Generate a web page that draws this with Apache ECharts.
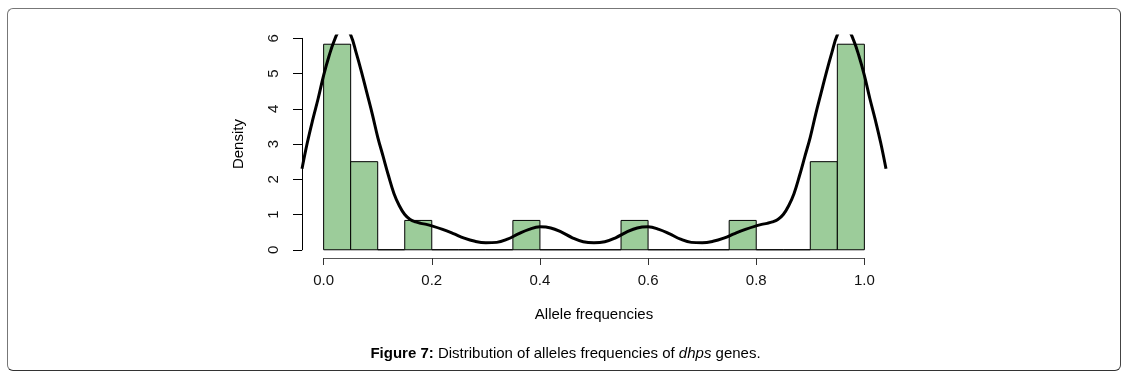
<!DOCTYPE html>
<html>
<head>
<meta charset="utf-8">
<script src="https://cdn.jsdelivr.net/npm/echarts@6/dist/echarts.min.js"></script>
<style>
  html, body { margin: 0; padding: 0; background: #fff; }
  #frame { position: absolute; left: 7px; top: 8px; width: 1112px; height: 361px;
           border: 1px solid #777; border-bottom-color: #333; border-right-color: #444; border-radius: 6px; }
  #chart { position: absolute; left: 0; top: 0; width: 1131px; height: 379px; }
</style>
</head>
<body>
<div id="frame"></div>
<div id="chart"></div>
<script>
// ---- data ----
const binStarts = [0.00,0.05,0.10,0.15,0.20,0.25,0.30,0.35,0.40,0.45,0.50,0.55,0.60,0.65,0.70,0.75,0.80,0.85,0.90,0.95];
const binEnds   = [0.05,0.10,0.15,0.20,0.25,0.30,0.35,0.40,0.45,0.50,0.55,0.60,0.65,0.70,0.75,0.80,0.85,0.90,0.95,1.00];
const densities = [5.833,2.5,0,0.833,0,0,0,0.833,0,0,0,0.833,0,0,0,0.833,0,0,2.5,5.833];

const curveX = [-0.04,-0.03,-0.02,-0.01,0.00,0.01,0.02,0.03,0.04,0.05,0.06,0.07,0.08,0.09,0.10,0.11,0.12,0.13,0.14,0.15,0.16,0.17,0.18,0.19,0.20,
                0.22,0.24,0.26,0.28,0.30,0.32,0.34,0.36,0.38,0.40,0.42,0.44,0.46,0.48,0.50,0.52,0.54,0.56,0.58,0.60,0.62,0.64,0.66,0.68,0.70,
                0.72,0.74,0.76,0.78,0.80,0.81,0.82,0.83,0.84,0.85,0.86,0.87,0.88,0.89,0.90,0.91,0.92,0.93,0.94,0.95,0.96,0.97,0.98,0.99,1.00,
                1.01,1.02,1.03,1.04];
const curveY = [2.3,3.05,3.7,4.3,4.95,5.5,5.95,6.25,6.3,6.1,5.6,5.05,4.45,3.85,3.2,2.65,2.1,1.6,1.25,1.0,0.86,0.79,0.75,0.72,0.68,
                0.58,0.46,0.33,0.24,0.2,0.21,0.3,0.45,0.58,0.65,0.62,0.5,0.34,0.23,0.2,0.23,0.34,0.5,0.62,0.65,0.58,0.45,0.3,0.21,0.2,
                0.24,0.33,0.46,0.58,0.68,0.72,0.75,0.79,0.86,1.0,1.25,1.6,2.1,2.65,3.2,3.85,4.45,5.05,5.6,6.1,6.3,6.25,5.95,5.5,4.95,
                4.3,3.7,3.05,2.3];

const xTicks = [0.0, 0.2, 0.4, 0.6, 0.8, 1.0];
const yTicks = [0, 1, 2, 3, 4, 5, 6];

// ---- layout ----
const W = 1131, H = 379;
const plotLeft = 302, plotRight = 886, plotTop = 36, plotBottom = 258;
const xMin = -0.04, xMax = 1.04, yMin = -0.2333, yMax = 6.0666;
const xPix = v => plotLeft + (v - xMin) / (xMax - xMin) * (plotRight - plotLeft);
const yPix = v => plotBottom - (v - yMin) / (yMax - yMin) * (plotBottom - plotTop);

const font = 'Liberation Sans, Arial, sans-serif';
const chart = echarts.init(document.getElementById('chart'));

const histData = binStarts.map((s, i) => [s, binEnds[i], densities[i]]);
const curveData = curveX.map((x, i) => [x, curveY[i]]);

chart.setOption({
  animation: false,
  title: {
    text: '{b|Figure 7:} Distribution of alleles frequencies of {i|dhps} genes.',
    left: 'center', top: 341,
    textStyle: {
      fontFamily: font, fontSize: 15, color: '#000', fontWeight: 'normal',
      rich: {
        b: { fontFamily: font, fontSize: 15, fontWeight: 'bold', color: '#000' },
        i: { fontFamily: font, fontSize: 15, fontStyle: 'italic', color: '#000' }
      }
    }
  },
  grid: [
    { left: plotLeft, right: W - plotRight, top: plotTop, bottom: H - plotBottom, outerBoundsMode: 'none' },
    { left: plotLeft, right: W - plotRight, top: yPix(yTicks[yTicks.length - 1]), bottom: H - yPix(yTicks[0]), outerBoundsMode: 'none' },
    { left: xPix(xTicks[0]), right: W - xPix(xTicks[xTicks.length - 1]), top: plotTop, bottom: H - plotBottom, outerBoundsMode: 'none' }
  ],
  xAxis: [
    { gridIndex: 0, type: 'value', min: xMin, max: xMax, show: false },
    { gridIndex: 1, type: 'value', min: 0, max: 1, show: false },
    { gridIndex: 2, type: 'value', min: xTicks[0], max: xTicks[xTicks.length - 1], interval: 0.2,
      name: 'Allele frequencies', nameLocation: 'middle', nameGap: 49,
      nameTextStyle: { fontFamily: font, fontSize: 15, color: '#000' },
      axisLine: { show: true, lineStyle: { color: '#555', width: 1 } },
      axisTick: { show: true, length: 7, lineStyle: { color: '#333' } },
      axisLabel: { fontFamily: font, fontSize: 15, color: '#111', margin: 15,
                   formatter: v => v.toFixed(1) },
      splitLine: { show: false } }
  ],
  yAxis: [
    { gridIndex: 0, type: 'value', min: yMin, max: yMax, show: false },
    { gridIndex: 1, type: 'value', min: yTicks[0], max: yTicks[yTicks.length - 1], interval: 1,
      name: 'Density', nameLocation: 'middle', nameRotate: 90, nameGap: 56,
      nameTextStyle: { fontFamily: font, fontSize: 15, color: '#000' },
      axisLine: { show: true, lineStyle: { color: '#000', width: 1 } },
      axisTick: { show: true, length: 9, lineStyle: { color: '#000' } },
      axisLabel: { fontFamily: font, fontSize: 15, color: '#111', rotate: 90, margin: 21 },
      splitLine: { show: false } },
    { gridIndex: 2, type: 'value', min: 0, max: 1, show: false }
  ],
  series: [
    {
      type: 'custom', xAxisIndex: 0, yAxisIndex: 0,
      data: histData,
      renderItem: (params, api) => {
        const p0 = api.coord([api.value(0), 0]);
        const p1 = api.coord([api.value(1), api.value(2)]);
        return {
          type: 'rect',
          shape: { x: p0[0], y: p1[1], width: p1[0] - p0[0], height: p0[1] - p1[1] },
          style: { fill: '#9ccc9a', stroke: '#000', lineWidth: 1 }
        };
      },
      clip: true, z: 2
    },
    {
      type: 'line', xAxisIndex: 0, yAxisIndex: 0,
      data: curveData, smooth: 0.4, showSymbol: false, symbol: 'none',
      lineStyle: { color: '#000', width: 3 }, clip: true, z: 3
    }
  ]
});
</script>
</body>
</html>
